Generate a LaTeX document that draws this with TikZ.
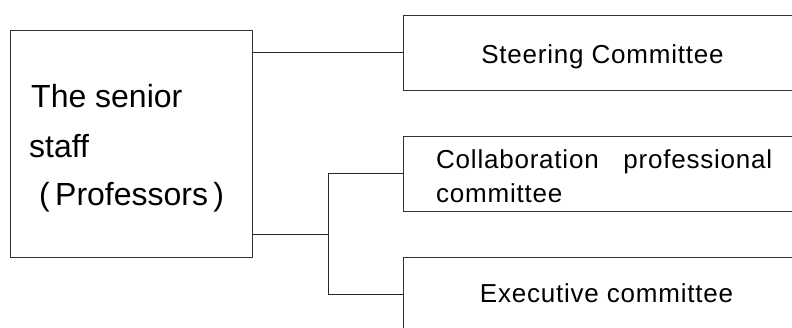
\documentclass[tikz,border=0pt]{standalone}
\usepackage{fontspec}
\setmainfont{Liberation Sans}
\newfontfamily\spacedfont[LetterSpace=3]{Liberation Sans}
\begin{document}
\begin{tikzpicture}[x=1pt,y=-1pt,
  box/.style={draw=black!80,line width=0.9pt,rectangle,inner sep=0pt},
  conn/.style={draw=black!85,line width=0.8pt},
  lbl/.style={inner sep=0pt,font=\spacedfont\fontsize{26}{30}\selectfont},
  biglbl/.style={inner sep=0pt,anchor=base west,font=\fontsize{32}{38}\selectfont}]
\useasboundingbox (0,0) rectangle (792,327);
\clip (0,0) rectangle (792,327);
% boxes
\node[box,minimum width=242pt,minimum height=227pt] (senior) at (131,143.5) {};
\node[box,minimum width=400pt,minimum height=75pt] (steer) at (603,52.5) {};
\node[box,minimum width=400pt,minimum height=75pt] (collab) at (603,173.5) {};
\node[box,minimum width=400pt,minimum height=75pt] (exec) at (603,294.5) {};
% texts
\node[biglbl] (t1) at (31,107) {The senior};
\node[biglbl] (t2) at (29,157) {staff};
\node[biglbl] (t3) at (39,205) {(\,Professors\,)};
\node[lbl,anchor=base] (s1) at (602.5,63) {Steering Committee};
\node[lbl,anchor=base west] (c1) at (436,168) {\makebox[336pt][s]{Collaboration\hfill professional}};
\node[lbl,anchor=base west] (c2) at (436,202) {committee};
\node[lbl,anchor=base] (e1) at (606.5,302) {Executive committee};
% connectors
\coordinate (j) at (328,234);
\draw[conn] (senior.east |- steer.west) -- (steer.west);
\draw[conn] (senior.east |- j) -- (j);
\draw[conn] (collab.west) -- (collab.west -| j) -- (exec.west -| j) -- (exec.west);
\end{tikzpicture}
\end{document}
